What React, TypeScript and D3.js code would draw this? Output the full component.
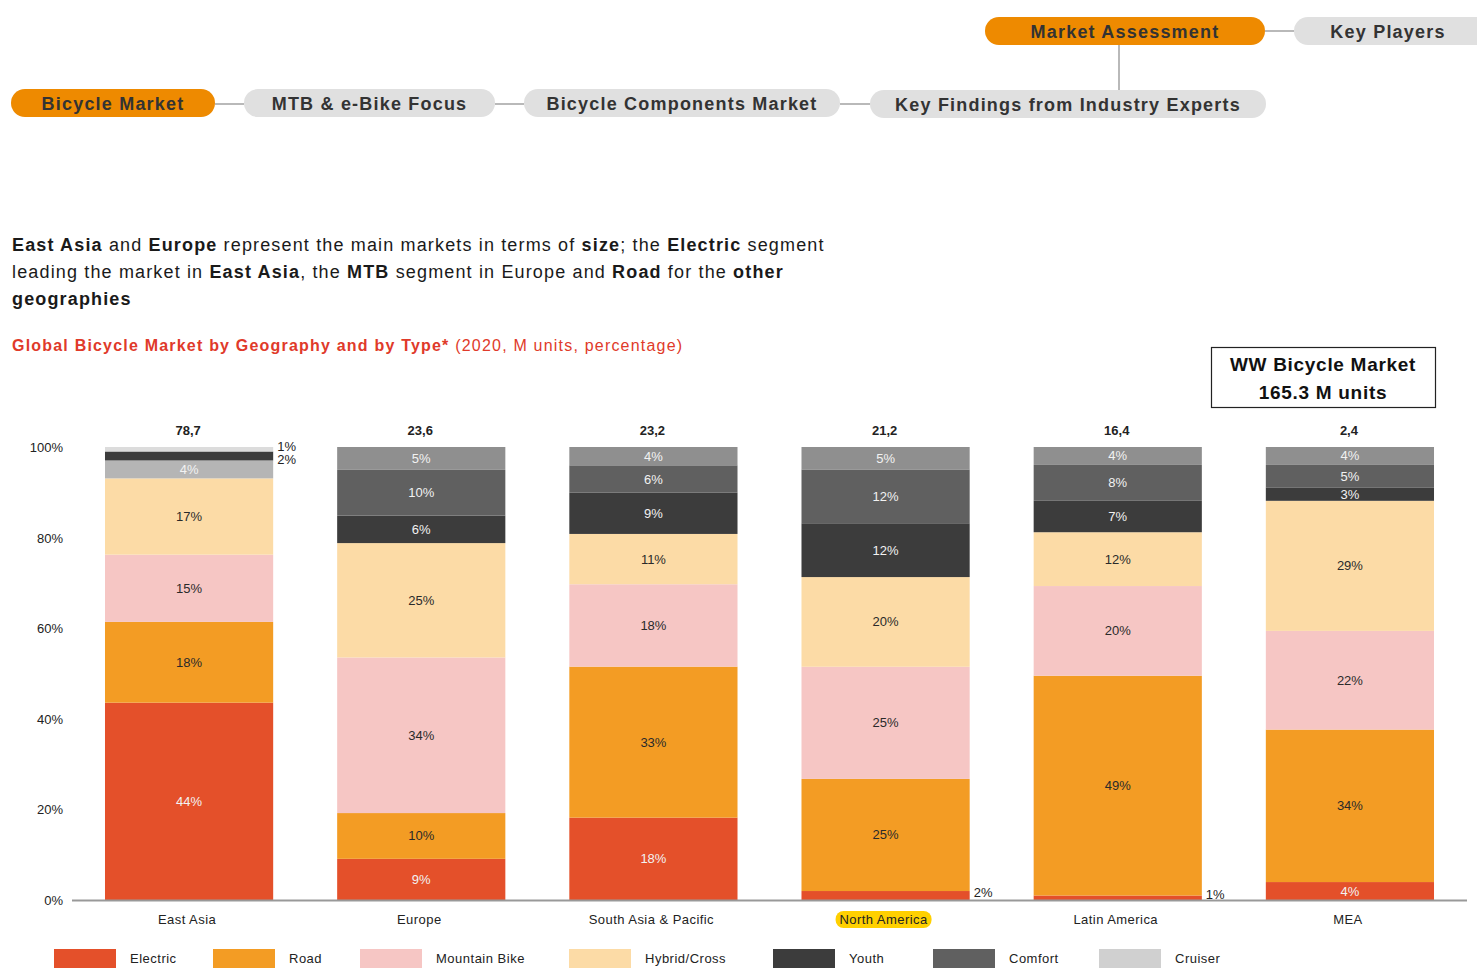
import React, { useEffect, useRef } from "react";
import * as d3 from "d3";

// data
const geographies = ["East Asia", "Europe", "South Asia & Pacific", "North America", "Latin America", "MEA"];
const totals = ["78,7", "23,6", "23,2", "21,2", "16,4", "2,4"];
const seriesNames = ["Electric", "Road", "Mountain Bike", "Hybrid/Cross", "Youth", "Comfort", "Cruiser"];
const electric = [44, 9, 18, 2, 1, 4];
const road = [18, 10, 33, 25, 49, 34];
const mountainBike = [15, 34, 18, 25, 20, 22];
const hybridCross = [17, 25, 11, 20, 12, 29];
const youth = [4, 6, 9, 12, 7, 3];
const comfort = [2, 10, 6, 12, 8, 5];
const cruiser = [1, 5, 4, 5, 4, 4];
const yTicks = [0, 0.2, 0.4, 0.6, 0.8, 1];

const FONT = "'Liberation Sans', Arial, sans-serif";

const legendColors = ["#e4502a", "#f39c24", "#f6c6c4", "#fcdba6", "#3c3c3c", "#606060", "#d0d0d0"];
const barColors = ["#e4502a", "#f39c24", "#f6c6c4", "#fcdba6", "#3c3c3c", "#606060", "#8f8f8f"];
// East Asia uses different greys in the source
const eastAsiaGreys: Record<string, string> = { Youth: "#b5b5b5", Comfort: "#3c3c3c", Cruiser: "#dcdcdc" };
const lightText = new Set(["Electric", "Youth", "Comfort", "Cruiser"]);

const navPills = [
  { label: "Market Assessment", x0: 985, x1: 1265, y: 17, active: true },
  { label: "Key Players", x0: 1294, x1: 1490, y: 17, active: false, cx: 1388 },
  { label: "Bicycle Market", x0: 11, x1: 215, y: 89, active: true },
  { label: "MTB & e-Bike Focus", x0: 244, x1: 495, y: 89, active: false },
  { label: "Bicycle Components Market", x0: 524, x1: 840, y: 89, active: false },
  { label: "Key Findings from Industry Experts", x0: 870, x1: 1266, y: 90, active: false },
];

export default function App() {
  const svgRef = useRef<SVGSVGElement>(null);

  useEffect(() => {
    document.body.style.margin = "0";
    document.body.style.overflow = "hidden";
    const svg = d3.select(svgRef.current);
    svg.selectAll("*").remove();
    svg.style("font-family", FONT);

    // ---- nav
    const nav = svg.append("g");
    const links = [
      [215, 104, 244, 104], [495, 104, 524, 104], [840, 104, 870, 104],
      [1265, 31, 1294, 31], [1119, 45, 1119, 90],
    ];
    nav.selectAll("line").data(links).enter().append("line")
      .attr("x1", d => d[0]).attr("y1", d => d[1]).attr("x2", d => d[2]).attr("y2", d => d[3])
      .attr("stroke", "#8a8a8a").attr("stroke-width", 1.2);
    const pill = nav.selectAll("g.pill").data(navPills).enter().append("g").attr("class", "pill");
    pill.append("rect")
      .attr("x", d => d.x0).attr("y", d => d.y).attr("width", d => d.x1 - d.x0).attr("height", 28)
      .attr("rx", 14).attr("fill", d => (d.active ? "#ee8a00" : "#e0e0e0"));
    pill.append("text")
      .attr("x", d => (d as any).cx ?? (d.x0 + d.x1) / 2).attr("y", d => d.y + 21)
      .attr("text-anchor", "middle").attr("font-size", 18).attr("font-weight", "bold")
      .attr("letter-spacing", 1.2).attr("fill", "#333").text(d => d.label);

    // ---- headline
    const lines: [string, boolean][][] = [
      [["East Asia", true], [" and ", false], ["Europe", true], [" represent the main markets in terms of ", false], ["size", true], ["; the ", false], ["Electric", true], [" segment", false]],
      [["leading the market in ", false], ["East Asia", true], [", the ", false], ["MTB", true], [" segment in Europe and ", false], ["Road", true], [" for the ", false], ["other", true]],
      [["geographies", true]],
    ];
    lines.forEach((parts, i) => {
      const t = svg.append("text").attr("x", 12).attr("y", 251 + i * 27)
        .attr("font-size", 18).attr("letter-spacing", 1.15).attr("fill", "#1a1a1a");
      parts.forEach(([s, b]) => t.append("tspan").attr("font-weight", b ? "bold" : "normal").text(s));
    });
    const sub = svg.append("text").attr("x", 12).attr("y", 351).attr("font-size", 16)
      .attr("letter-spacing", 1.2).attr("fill", "#e03a2a");
    sub.append("tspan").attr("font-weight", "bold").text("Global Bicycle Market by Geography and by Type*");
    sub.append("tspan").text(" (2020, M units, percentage)");

    // ---- box
    svg.append("rect").attr("x", 1211.5).attr("y", 347.5).attr("width", 224).attr("height", 60)
      .attr("fill", "none").attr("stroke", "#222").attr("stroke-width", 1.2);
    svg.append("text").attr("x", 1323).attr("y", 371).attr("text-anchor", "middle").attr("font-size", 19)
      .attr("font-weight", "bold").attr("letter-spacing", 0.7).attr("fill", "#111").text("WW Bicycle Market");
    svg.append("text").attr("x", 1323).attr("y", 399).attr("text-anchor", "middle").attr("font-size", 19)
      .attr("font-weight", "bold").attr("letter-spacing", 0.7).attr("fill", "#111").text("165.3 M units");

    // ---- chart
    const seriesValues = [electric, road, mountainBike, hybridCross, youth, comfort, cruiser];
    const table = geographies.map((g, i) => {
      const row: Record<string, any> = { geo: g };
      seriesNames.forEach((s, k) => (row[s] = seriesValues[k][i]));
      return row;
    });
    const stacked = d3.stack<any>().keys(seriesNames).offset(d3.stackOffsetExpand)(table);

    const x = d3.scaleBand().domain(geographies).range([73, 1466]).paddingInner(0.2756).paddingOuter(0.1378);
    const y = d3.scaleLinear().domain([0, 1]).range([900, 447]);

    const chart = svg.append("g");
    chart.selectAll("text.ytick").data(yTicks).enter().append("text").attr("class", "ytick")
      .attr("x", 63).attr("y", d => y(d) + 5).attr("text-anchor", "end").attr("font-size", 13)
      .attr("fill", "#222").text(d => d3.format(".0%")(d));

    const layer = chart.selectAll("g.layer").data(stacked).enter().append("g").attr("class", "layer");
    layer.selectAll("rect").data(d => d.map(p => ({ key: d.key, p }))).enter().append("rect")
      .attr("x", d => x(d.p.data.geo)!)
      .attr("width", x.bandwidth())
      .attr("y", d => y(d.p[1]))
      .attr("height", d => y(d.p[0]) - y(d.p[1]))
      .attr("fill", d => {
        if (d.p.data.geo === "East Asia" && eastAsiaGreys[d.key]) return eastAsiaGreys[d.key];
        return barColors[seriesNames.indexOf(d.key)];
      });

    // value labels; small shares go beside the bar
    const outside: Record<string, { v: number; cy: number }[]> = {};
    stacked.forEach(s => {
      s.forEach(p => {
        const v = p.data[s.key] as number;
        const geo = p.data.geo as string;
        const cy = (y(p[0]) + y(p[1])) / 2;
        if (v <= 2) {
          (outside[geo] = outside[geo] || []).push({ v, cy });
        } else {
          chart.append("text").attr("x", x(geo)! + x.bandwidth() / 2).attr("y", cy + 4.5)
            .attr("text-anchor", "middle").attr("font-size", 13)
            .attr("fill", lightText.has(s.key) ? "#f2f2f2" : "#2a2a2a").text(v + "%");
        }
      });
    });
    Object.entries(outside).forEach(([geo, items]) => {
      items.sort((a, b) => a.cy - b.cy);
      let prev = -Infinity;
      items.forEach(it => {
        const ly = Math.max(it.cy - 3, prev + 13);
        prev = ly;
        chart.append("text").attr("x", x(geo)! + x.bandwidth() + 4).attr("y", ly + 4.5)
          .attr("font-size", 13).attr("fill", "#222").text(it.v + "%");
      });
    });

    // totals
    chart.selectAll("text.total").data(geographies).enter().append("text").attr("class", "total")
      .attr("x", d => x(d)! + x.bandwidth() / 2 - 1).attr("y", 435).attr("text-anchor", "middle")
      .attr("font-size", 13).attr("font-weight", "bold").attr("fill", "#222")
      .text((d, i) => totals[i]);

    // baseline
    chart.append("line").attr("x1", 72).attr("x2", 1467).attr("y1", 900.5).attr("y2", 900.5)
      .attr("stroke", "#999").attr("stroke-width", 2);

    // category labels
    const cat = chart.selectAll("g.cat").data(geographies).enter().append("g").attr("class", "cat");
    cat.filter(d => d === "North America").append("rect")
      .attr("x", d => x(d)! + x.bandwidth() / 2 - 50).attr("y", 911).attr("width", 96).attr("height", 17)
      .attr("rx", 8).attr("fill", "#ffd000");
    cat.append("text").attr("x", d => x(d)! + x.bandwidth() / 2 - 2).attr("y", 924).attr("text-anchor", "middle")
      .attr("font-size", 13).attr("letter-spacing", 0.45).attr("fill", "#222").text(d => d);

    // legend
    const legendX = [54, 213, 360, 569, 773, 933, 1099];
    const leg = chart.selectAll("g.leg").data(seriesNames).enter().append("g").attr("class", "leg")
      .attr("transform", (d, i) => `translate(${legendX[i]},949)`);
    leg.append("rect").attr("width", 62).attr("height", 19).attr("fill", (d, i) => legendColors[i]);
    leg.append("text").attr("x", 76).attr("y", 14).attr("font-size", 13).attr("letter-spacing", 0.5)
      .attr("fill", "#222").text(d => d);
  }, []);

  return (
    <div>
      <svg ref={svgRef} width={1477} height={972} style={{ display: "block", background: "#fff" }} />
    </div>
  );
}
